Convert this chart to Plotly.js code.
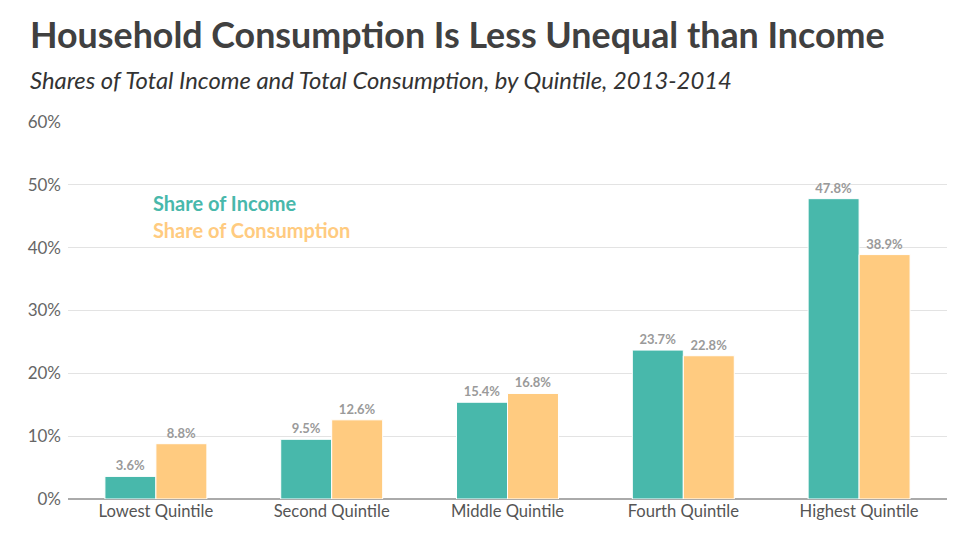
<!DOCTYPE html>
<html>
<head>
<meta charset="utf-8">
<script src="https://cdn.plot.ly/plotly-3.0.1.min.js"></script>
<style>
  body { margin: 0; background: #fff; }
  #chart { width: 975px; height: 557px; }
</style>
</head>
<body>
<div id="chart"></div>
<script>
var quintiles = ["Lowest Quintile", "Second Quintile", "Middle Quintile", "Fourth Quintile", "Highest Quintile"];
var income_share = [3.6, 9.5, 15.4, 23.7, 47.8];
var consumption_share = [8.8, 12.6, 16.8, 22.8, 38.9];

var teal = "#48b8ab";
var orange = "#ffcb80";

function labels(vals) {
    var out = [];
    for (var i = 0; i < vals.length; i++) {
        out.push(vals[i].toFixed(1) + "%");
    }
    return out;
}

var trace1 = {
    x: quintiles,
    y: income_share,
    name: "Share of Income",
    type: "bar",
    text: labels(income_share),
    textposition: "outside",
    cliponaxis: false,
    textfont: {family: "Lato", size: 13, color: "#9a9a9a", weight: "bold"},
    marker: {color: teal, line: {color: "#ffffff", width: 1}},
    hoverinfo: "skip"
};

var trace2 = {
    x: quintiles,
    y: consumption_share,
    name: "Share of Consumption",
    type: "bar",
    text: labels(consumption_share),
    textposition: "outside",
    cliponaxis: false,
    textfont: {family: "Lato", size: 13, color: "#9a9a9a", weight: "bold"},
    marker: {color: orange, line: {color: "#ffffff", width: 1}},
    hoverinfo: "skip"
};

var layout = {
    width: 975,
    height: 557,
    barmode: "group",
    bargap: 0.42,
    bargroupgap: 0,
    showlegend: false,
    font: {family: "Lato", color: "#555555"},
    margin: {l: 68, r: 28, t: 122, b: 58},
    paper_bgcolor: "#ffffff",
    plot_bgcolor: "#ffffff",
    xaxis: {
        tickfont: {size: 16.6, color: "#555555"},
        showgrid: false,
        ticks: "",
        showline: false
    },
    yaxis: {
        range: [0, 60],
        dtick: 10,
        ticksuffix: "%",
        tickfont: {size: 17, color: "#666666"},
        gridcolor: "#e3e3e3",
        gridwidth: 1,
        zeroline: true,
        zerolinecolor: "#aaaaaa",
        zerolinewidth: 2,
        ticks: "",
        ticklabelstandoff: 6
    },
    annotations: [
        {
            text: "<b>Household Consumption Is Less Unequal than Income</b>",
            xref: "paper", yref: "paper", x: -0.0455, y: 1.231,
            xanchor: "left", yanchor: "middle", showarrow: false,
            font: {family: "Lato", size: 35.8, color: "#404040"}
        },
        {
            text: "<i>Shares of Total Income and Total Consumption, by Quintile, 2013-2014</i>",
            xref: "paper", yref: "paper", x: -0.0455, y: 1.111,
            xanchor: "left", yanchor: "middle", showarrow: false,
            font: {family: "Lato", size: 23.8, color: "#333333"}
        },
        {
            text: "<b>Share of Income</b>",
            xref: "paper", yref: "paper", x: 0.094, y: 0.785,
            xanchor: "left", yanchor: "middle", showarrow: false,
            font: {family: "Lato", size: 20, color: teal}
        },
        {
            text: "<b>Share of Consumption</b>",
            xref: "paper", yref: "paper", x: 0.094, y: 0.714,
            xanchor: "left", yanchor: "middle", showarrow: false,
            font: {family: "Lato", size: 20, color: orange}
        }
    ]
};

Plotly.newPlot("chart", [trace1, trace2], layout, {displayModeBar: false, staticPlot: true});
</script>
</body>
</html>
